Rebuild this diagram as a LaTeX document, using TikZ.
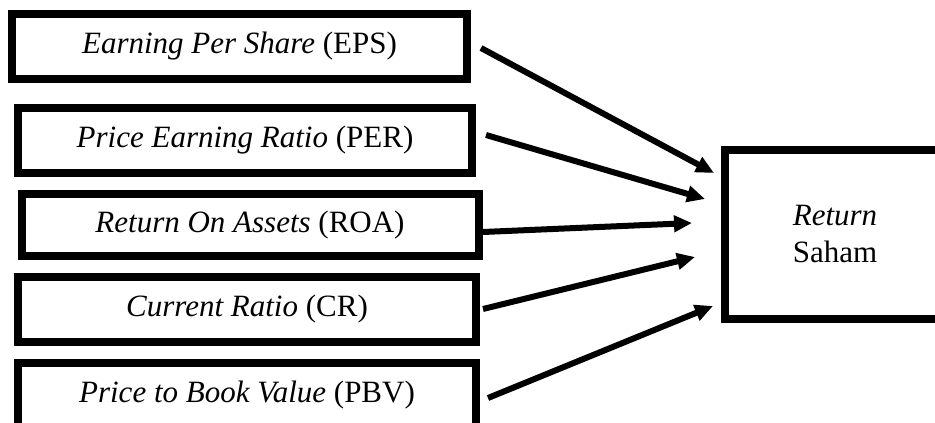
\documentclass[tikz,border=0pt]{standalone}
\usepackage{fontspec}
\setmainfont{Liberation Serif}
\usetikzlibrary{arrows.meta}
\begin{document}
\begin{tikzpicture}[x=1pt,y=-1pt,
  varbox/.style={draw=black,line width=8pt,rectangle,minimum height=65pt,inner sep=0pt,font=\fontsize{31}{36}\selectfont,fill=white},
  conn/.style={line width=6pt,-{Triangle[length=18pt,width=16pt]}}]
\useasboundingbox (0,0) rectangle (935,423);
\clip (0,0) rectangle (935,423);
\node[varbox,minimum width=455pt] (eps) at (239.5,46.5) {\textit{Earning Per Share} (EPS)};
\node[varbox,minimum width=454pt] (per) at (245,140.5) {\textit{Price Earning Ratio} (PER)};
\node[varbox,minimum width=457pt,minimum height=62pt] (roa) at (250,225) {\textit{Return On Assets} (ROA)};
\node[varbox,minimum width=458pt] (cr) at (247,309.5) {\textit{Current Ratio} (CR)};
\node[varbox,minimum width=458pt] (pbv) at (247,395.5) {\textit{Price to Book Value} (PBV)};
\node[varbox,minimum width=220pt,minimum height=169pt,align=center,font=\fontsize{31}{37}\selectfont] (ret) at (835,234) {\textit{Return}\\Saham};
\coordinate (s1) at (481,48);  \coordinate (t1) at (714,173);
\coordinate (s2) at (486,135); \coordinate (t2) at (705,199);
\coordinate (s3) at (483,232); \coordinate (t3) at (692,223);
\coordinate (s4) at (483,309); \coordinate (t4) at (695,257);
\coordinate (s5) at (488,398); \coordinate (t5) at (713,306);
\draw[conn] (s1) -- (t1);
\draw[conn] (s2) -- (t2);
\draw[conn] (s3) -- (t3);
\draw[conn] (s4) -- (t4);
\draw[conn] (s5) -- (t5);
\end{tikzpicture}
\end{document}
